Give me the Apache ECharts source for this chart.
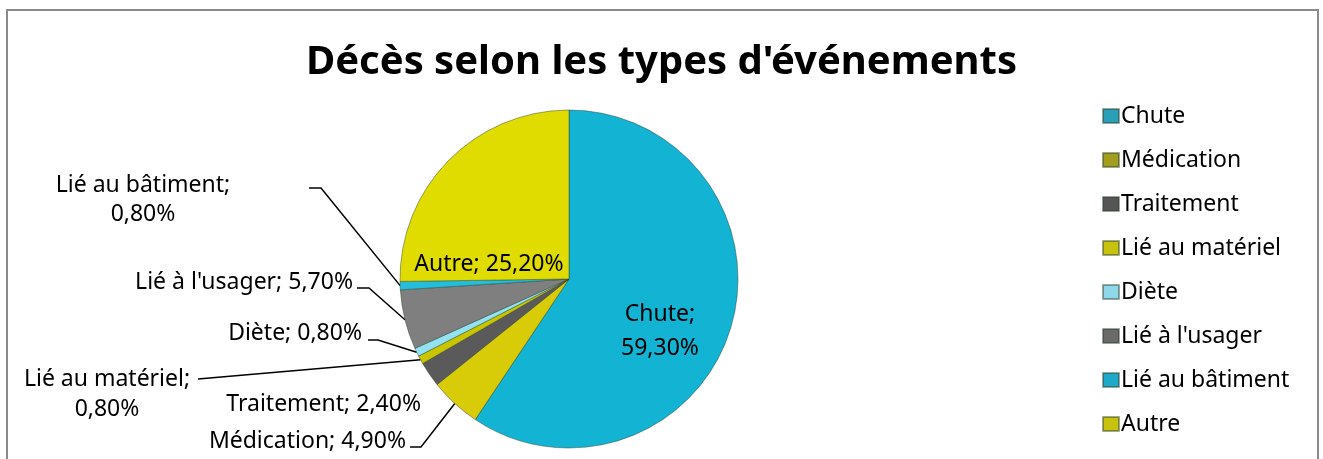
<!DOCTYPE html>
<html><head><meta charset="utf-8">
<script src="https://cdn.jsdelivr.net/npm/echarts@6/dist/echarts.min.js"></script>
<style>html,body{margin:0;padding:0;background:#fff}#c{width:1323px;height:459px}</style>
</head><body><div id="c"></div>
<script>
const categories = ["Chute","Médication","Traitement","Lié au matériel","Diète","Lié à l'usager","Lié au bâtiment","Autre"];
const percents = [59.3, 4.9, 2.4, 0.8, 0.8, 5.7, 0.8, 25.2];
const labelTexts = ["Chute;\n59,30%","Médication; 4,90%","Traitement; 2,40%","Lié au matériel;\n0,80%","Diète; 0,80%","Lié à l'usager; 5,70%","Lié au bâtiment;\n0,80%","Autre; 25,20%"];

const sliceColors = ["#12b3d3","#d8cc08","#5a5a5a","#c9c600","#92e2f2","#7f7f7f","#22bedc","#e0dc00"];
const legendColors = ["#2a9fb8","#a49c1c","#555555","#c8c20e","#8fd8ea","#6a6a6a","#1fa9c8","#c8c20e"];

// label layout (page pixels): where each label sits and its leader-line elbow
const labelPlacement = {
  "Chute":           {x:660, y:331, align:'center', lh:34},
  "Autre":           {x:489, y:264, align:'center'},
  "Lié au bâtiment": {x:143, y:200, align:'center', lh:29, line:[[321,188],[309,188]]},
  "Lié à l'usager":  {x:353, y:282, align:'right', line:[[369,288],[357,288]]},
  "Diète":           {x:362, y:333, align:'right', line:[[378,340],[368,340]]},
  "Lié au matériel": {x:107, y:394, align:'center', lh:30, line:[[198,379]]},
  "Traitement":      {x:421, y:404, align:'right'},
  "Médication":      {x:406, y:441, align:'right', line:[[421,447],[410,447]]}
};

const chart = echarts.init(document.getElementById('c'), null, {renderer:'canvas'});
const FONT = 'Noto Sans';

chart.setOption({
  animation:false,
  title:{text:"Décès selon les types d'événements", left:'center', top:38,
    textStyle:{fontFamily:FONT, fontWeight:'bold', fontSize:40, color:'#000'}},
  graphic:[{type:'rect', shape:{x:7, y:10, width:1311, height:470},
    style:{fill:'none', stroke:'#8a8a8a', lineWidth:2}, silent:true}],
  legend:{orient:'vertical', left:1097, top:97, itemWidth:16, itemHeight:14, itemGap:16,
    icon:'rect',
    textStyle:{fontFamily:FONT, fontSize:23, lineHeight:28, color:'#000', padding:[0,0,0,-3]},
    data:categories.map((c,i)=>({name:c, itemStyle:{color:legendColors[i]}}))},
  series:[{
    type:'pie', center:[569,279], radius:169, startAngle:90, clockwise:true,
    avoidLabelOverlap:false,
    itemStyle:{borderColor:'rgba(40,60,40,0.45)', borderWidth:1},
    label:{show:true, position:'outside', fontFamily:FONT, fontSize:23, color:'#000',
      formatter:p=>labelTexts[p.dataIndex]},
    labelLine:{show:true, length:10, length2:10, lineStyle:{color:'#000', width:1.5}},
    labelLayout:function(params){
      const p = labelPlacement[categories[params.dataIndex]];
      if(!p) return;
      const r = {x:p.x, y:p.y, align:p.align, verticalAlign:'middle'};
      if(params.labelLinePoints){
        if(p.line){ r.labelLinePoints=[params.labelLinePoints[0]].concat(p.line); }
      }
      return r;
    },
    data:categories.map((c,i)=>{
      const p = labelPlacement[c];
      const d = {name:c, value:percents[i], itemStyle:{color:sliceColors[i]}};
      const lab = {};
      if(p.lh) lab.lineHeight = p.lh;
      if(c==="Chute"||c==="Autre"){ lab.position='inside'; }
      if(!p.line) d.labelLine={show:false};
      d.label = lab;
      return d;
    }),
    emphasis:{disabled:true}
  }]
});
</script></body></html>
